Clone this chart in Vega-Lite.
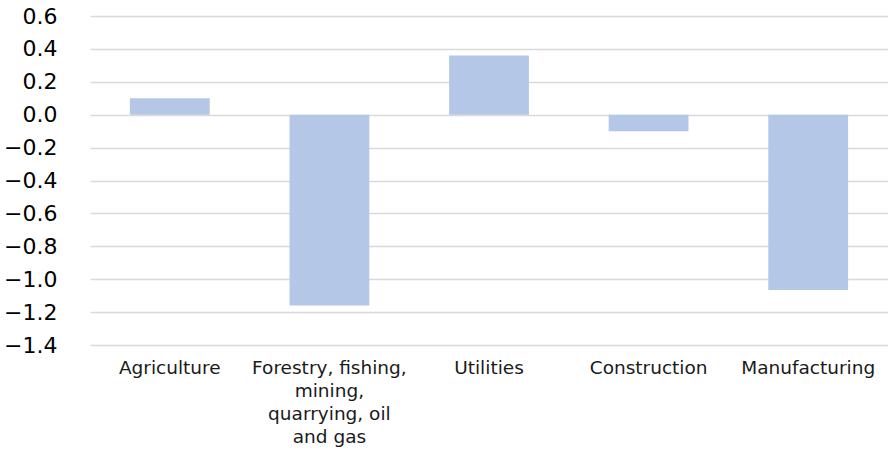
{
  "$schema": "https://vega.github.io/schema/vega-lite/v6.json",
  "autosize": {"type": "none"},
  "padding": {"left": 90, "top": 16, "right": 0, "bottom": 111},
  "width": 798,
  "height": 329,
  "background": "white",
  "data": {"values": [
    {"sector": "Agriculture", "value": 0.10},
    {"sector": "Forestry, fishing, mining, quarrying, oil and gas", "value": -1.16},
    {"sector": "Utilities", "value": 0.36},
    {"sector": "Construction", "value": -0.10},
    {"sector": "Manufacturing", "value": -1.065}
  ]},
  "mark": {"type": "bar", "color": "#b4c7e7"},
  "encoding": {
    "x": {
      "field": "sector", "type": "nominal", "sort": null, "title": null,
      "scale": {"paddingInner": 0.5, "paddingOuter": 0.25},
      "axis": {
        "labelAngle": 0, "domain": false, "ticks": false, "grid": false,
        "labelFont": "DejaVu Sans", "labelFontSize": 18.5, "labelColor": "#1a1a1a",
        "labelPadding": 13, "labelLineHeight": 23.3, "labelLimit": 200,
        "labelExpr": "datum.label == 'Forestry, fishing, mining, quarrying, oil and gas' ? ['Forestry, fishing,', 'mining,', 'quarrying, oil', 'and gas'] : datum.label"
      }
    },
    "y": {
      "field": "value", "type": "quantitative", "title": null,
      "scale": {"domain": [-1.4, 0.6], "nice": false, "zero": false},
      "axis": {
        "values": [-1.4, -1.2, -1.0, -0.8, -0.6, -0.4, -0.2, 0.0, 0.2, 0.4, 0.6],
        "format": ".1f", "domain": false, "ticks": false,
        "grid": true, "gridColor": "#d9d9d9", "gridWidth": 1.5,
        "labelFont": "DejaVu Sans", "labelFontSize": 22, "labelColor": "#000000",
        "labelPadding": 33
      }
    }
  },
  "config": {"view": {"stroke": null}}
}
